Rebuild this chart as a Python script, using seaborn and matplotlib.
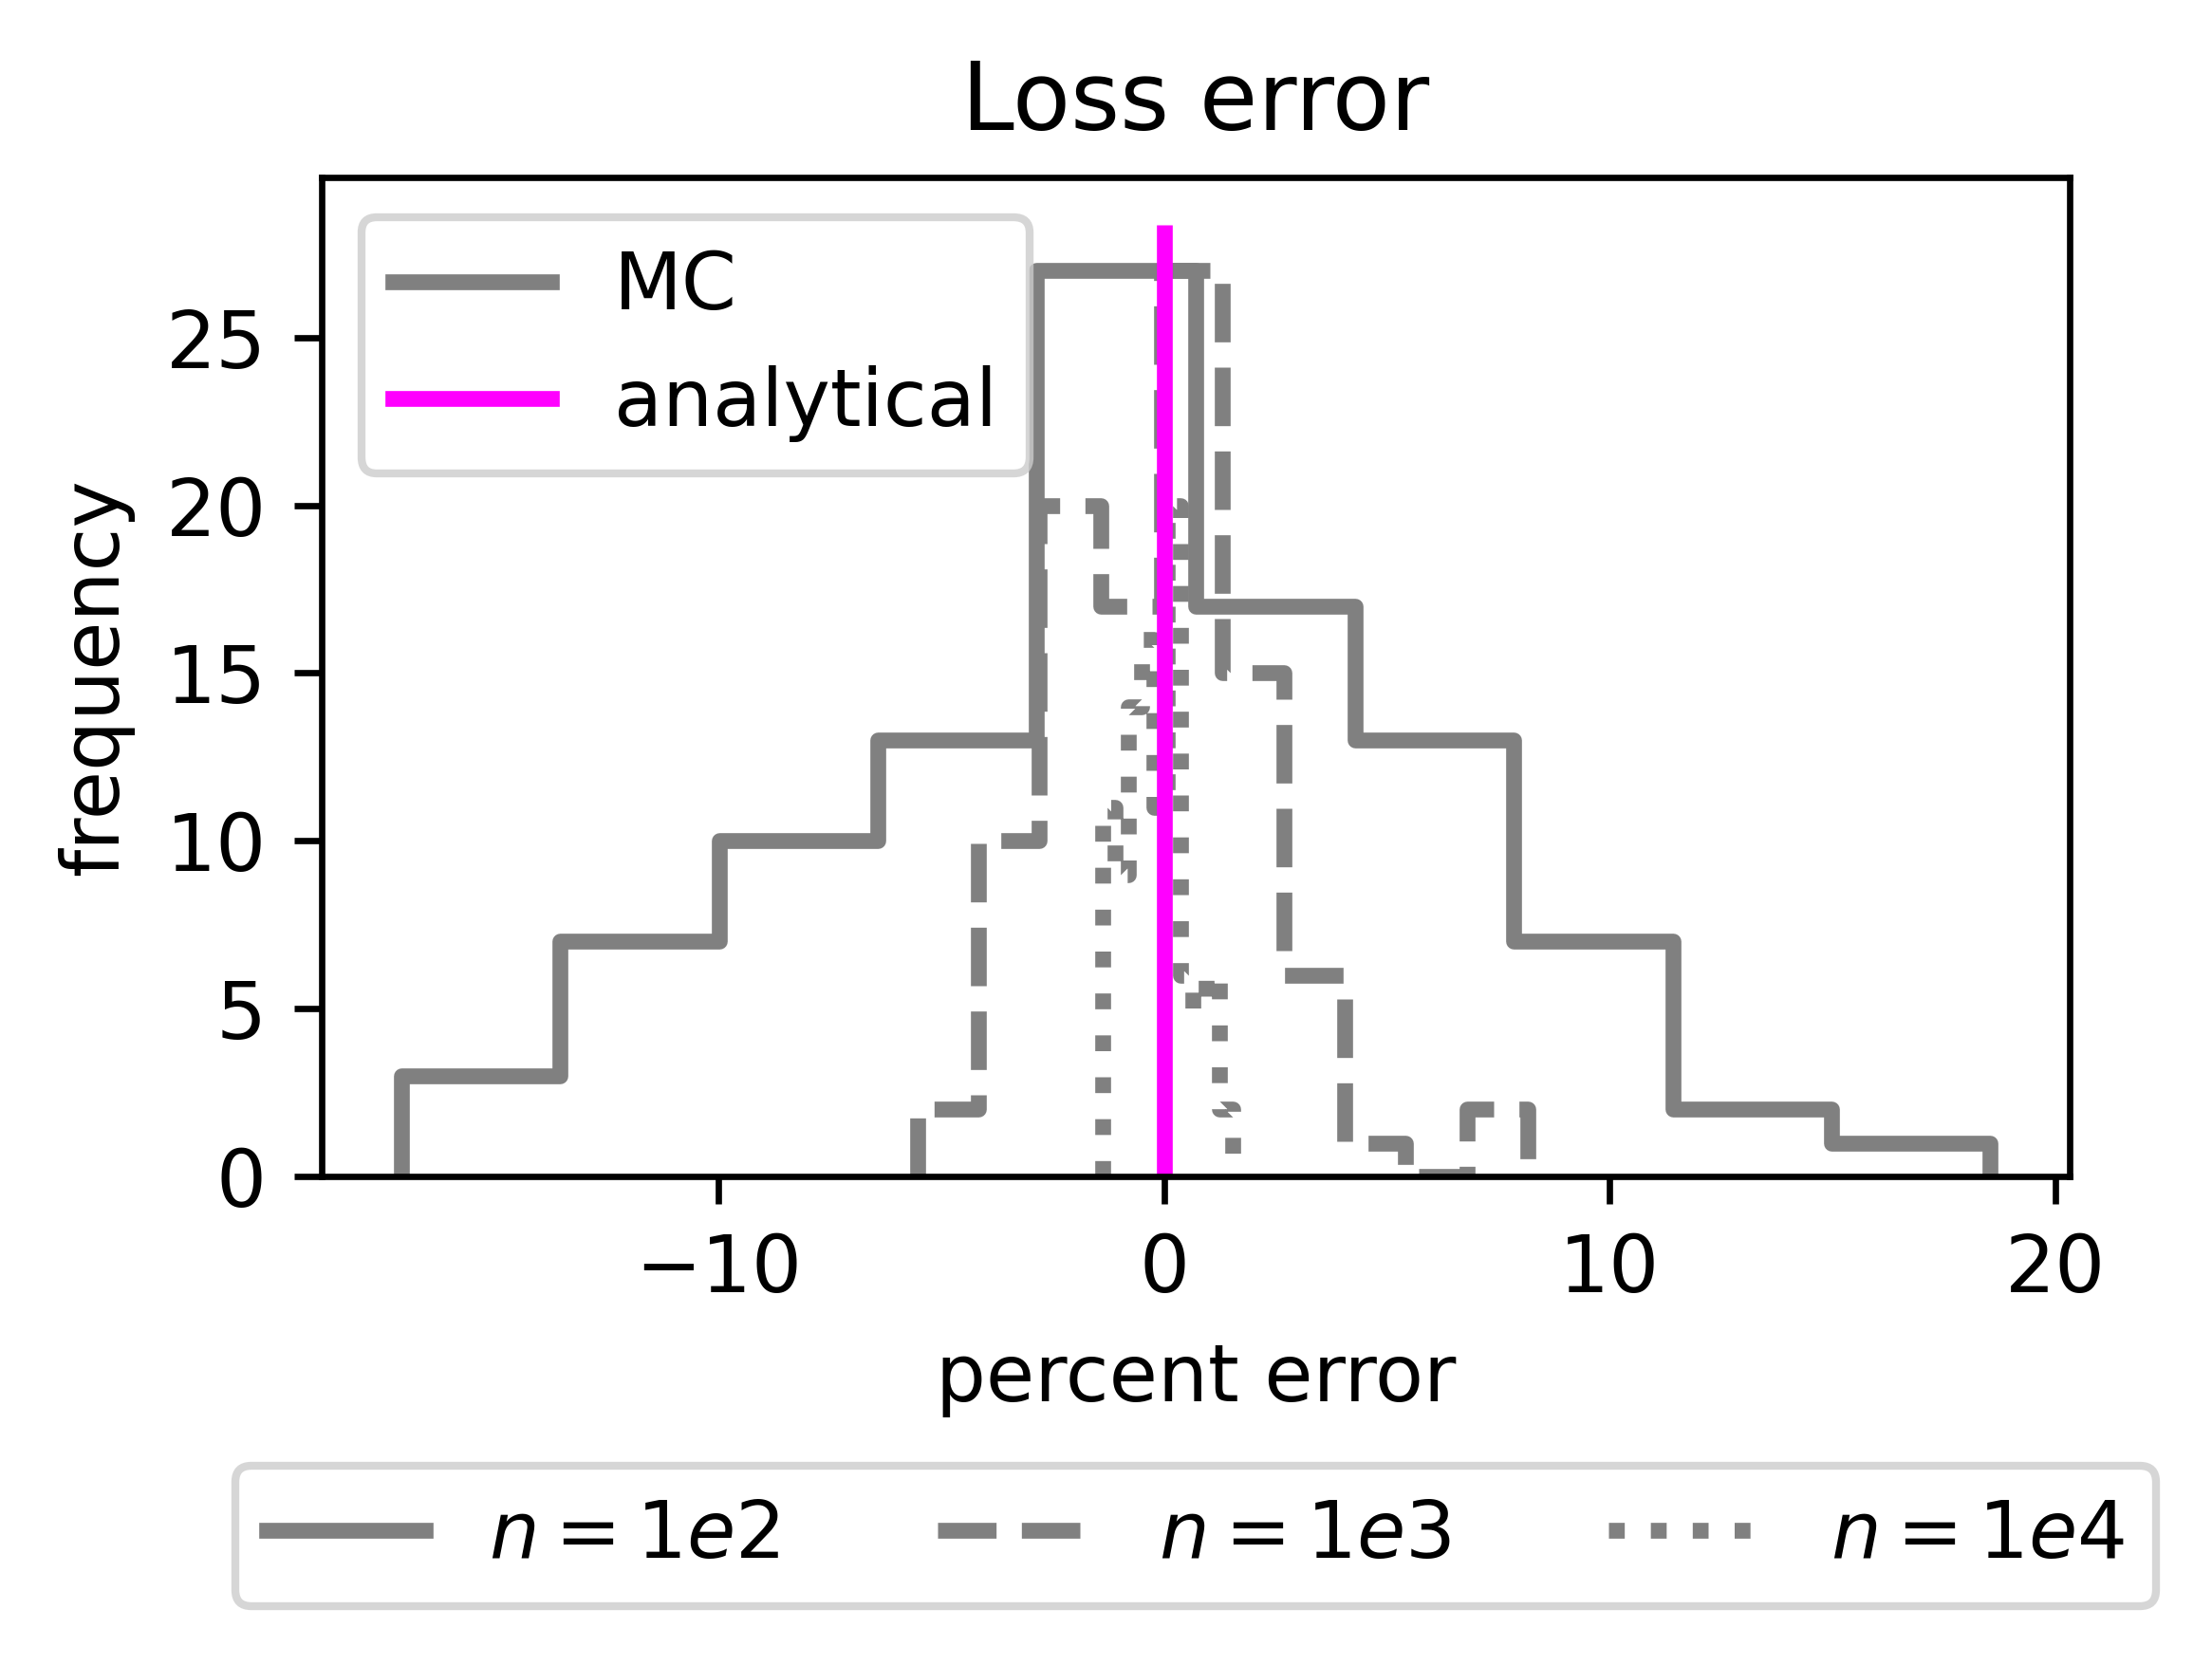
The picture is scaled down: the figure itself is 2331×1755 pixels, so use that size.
import numpy as np
import pandas as pd
import matplotlib
matplotlib.use("Agg")
import matplotlib.pyplot as plt
from matplotlib.lines import Line2D
import seaborn as sns

# histogram bin edges / counts (100 runs each)
edges_1e2 = [-17.12, -13.55, -9.99, -6.42, -2.86, 0.70, 4.28, 7.84, 11.41, 14.97, 18.54]
counts_1e2 = [3, 7, 10, 13, 27, 17, 13, 7, 2, 1]

edges_1e3 = [-5.54, -4.17, -2.80, -1.43, -0.06, 1.31, 2.68, 4.05, 5.42, 6.79, 8.16]
counts_1e3 = [2, 10, 20, 17, 27, 15, 6, 1, 0, 2]

edges_1e4 = [-1.38, -1.09, -0.80, -0.51, -0.22, 0.07, 0.36, 0.65, 0.94, 1.24, 1.53]
counts_1e4 = [11, 9, 14, 16, 11, 20, 6, 5, 6, 2]

labels = ["$n=1e2$", "$n=1e3$", "$n=1e4$"]
styles = ["-", "--", ":"]
analytical_error = 0.0

fig, ax = plt.subplots(figsize=(2331 / 600, 1755 / 600), dpi=600)
fig.subplots_adjust(left=0.1454, right=0.9357, top=0.8934, bottom=0.2934)

for edges, counts, ls in zip([edges_1e2, edges_1e3, edges_1e4],
                             [counts_1e2, counts_1e3, counts_1e4], styles):
    e = np.array(edges)
    df = pd.DataFrame({"err": (e[:-1] + e[1:]) / 2, "count": counts})
    # tiny empty bins at both ends so the step outline drops to zero like plt.hist
    bins = [edges[0] - 1e-6] + list(edges) + [edges[-1] + 1e-6]
    sns.histplot(data=df, x="err", weights="count", bins=bins, element="step",
                 fill=False, color="gray", linestyle=ls, linewidth=2, ax=ax)

hist_lines = list(ax.lines)
top = max(max(counts_1e2), max(counts_1e3), max(counts_1e4)) * 1.05
ax.vlines(analytical_error, 0, top, colors="magenta", linewidth=2)
ax.set_ylim(0, top * 1.05)

ax.set_title("Loss error")
ax.set_xlabel("percent error")
ax.set_ylabel("frequency")
ax.set_yticks([0, 5, 10, 15, 20, 25])
ax.set_xticks([-10, 0, 10, 20])

analytical_handle = Line2D([], [], color="magenta", linewidth=2)
leg1 = ax.legend([hist_lines[0], analytical_handle], ["MC", "analytical"], loc="upper left")
ax.legend(hist_lines, labels, loc="upper center", bbox_to_anchor=(0.5, -0.25), ncol=3)
ax.add_artist(leg1)

fig.savefig("out.png", dpi=600)
